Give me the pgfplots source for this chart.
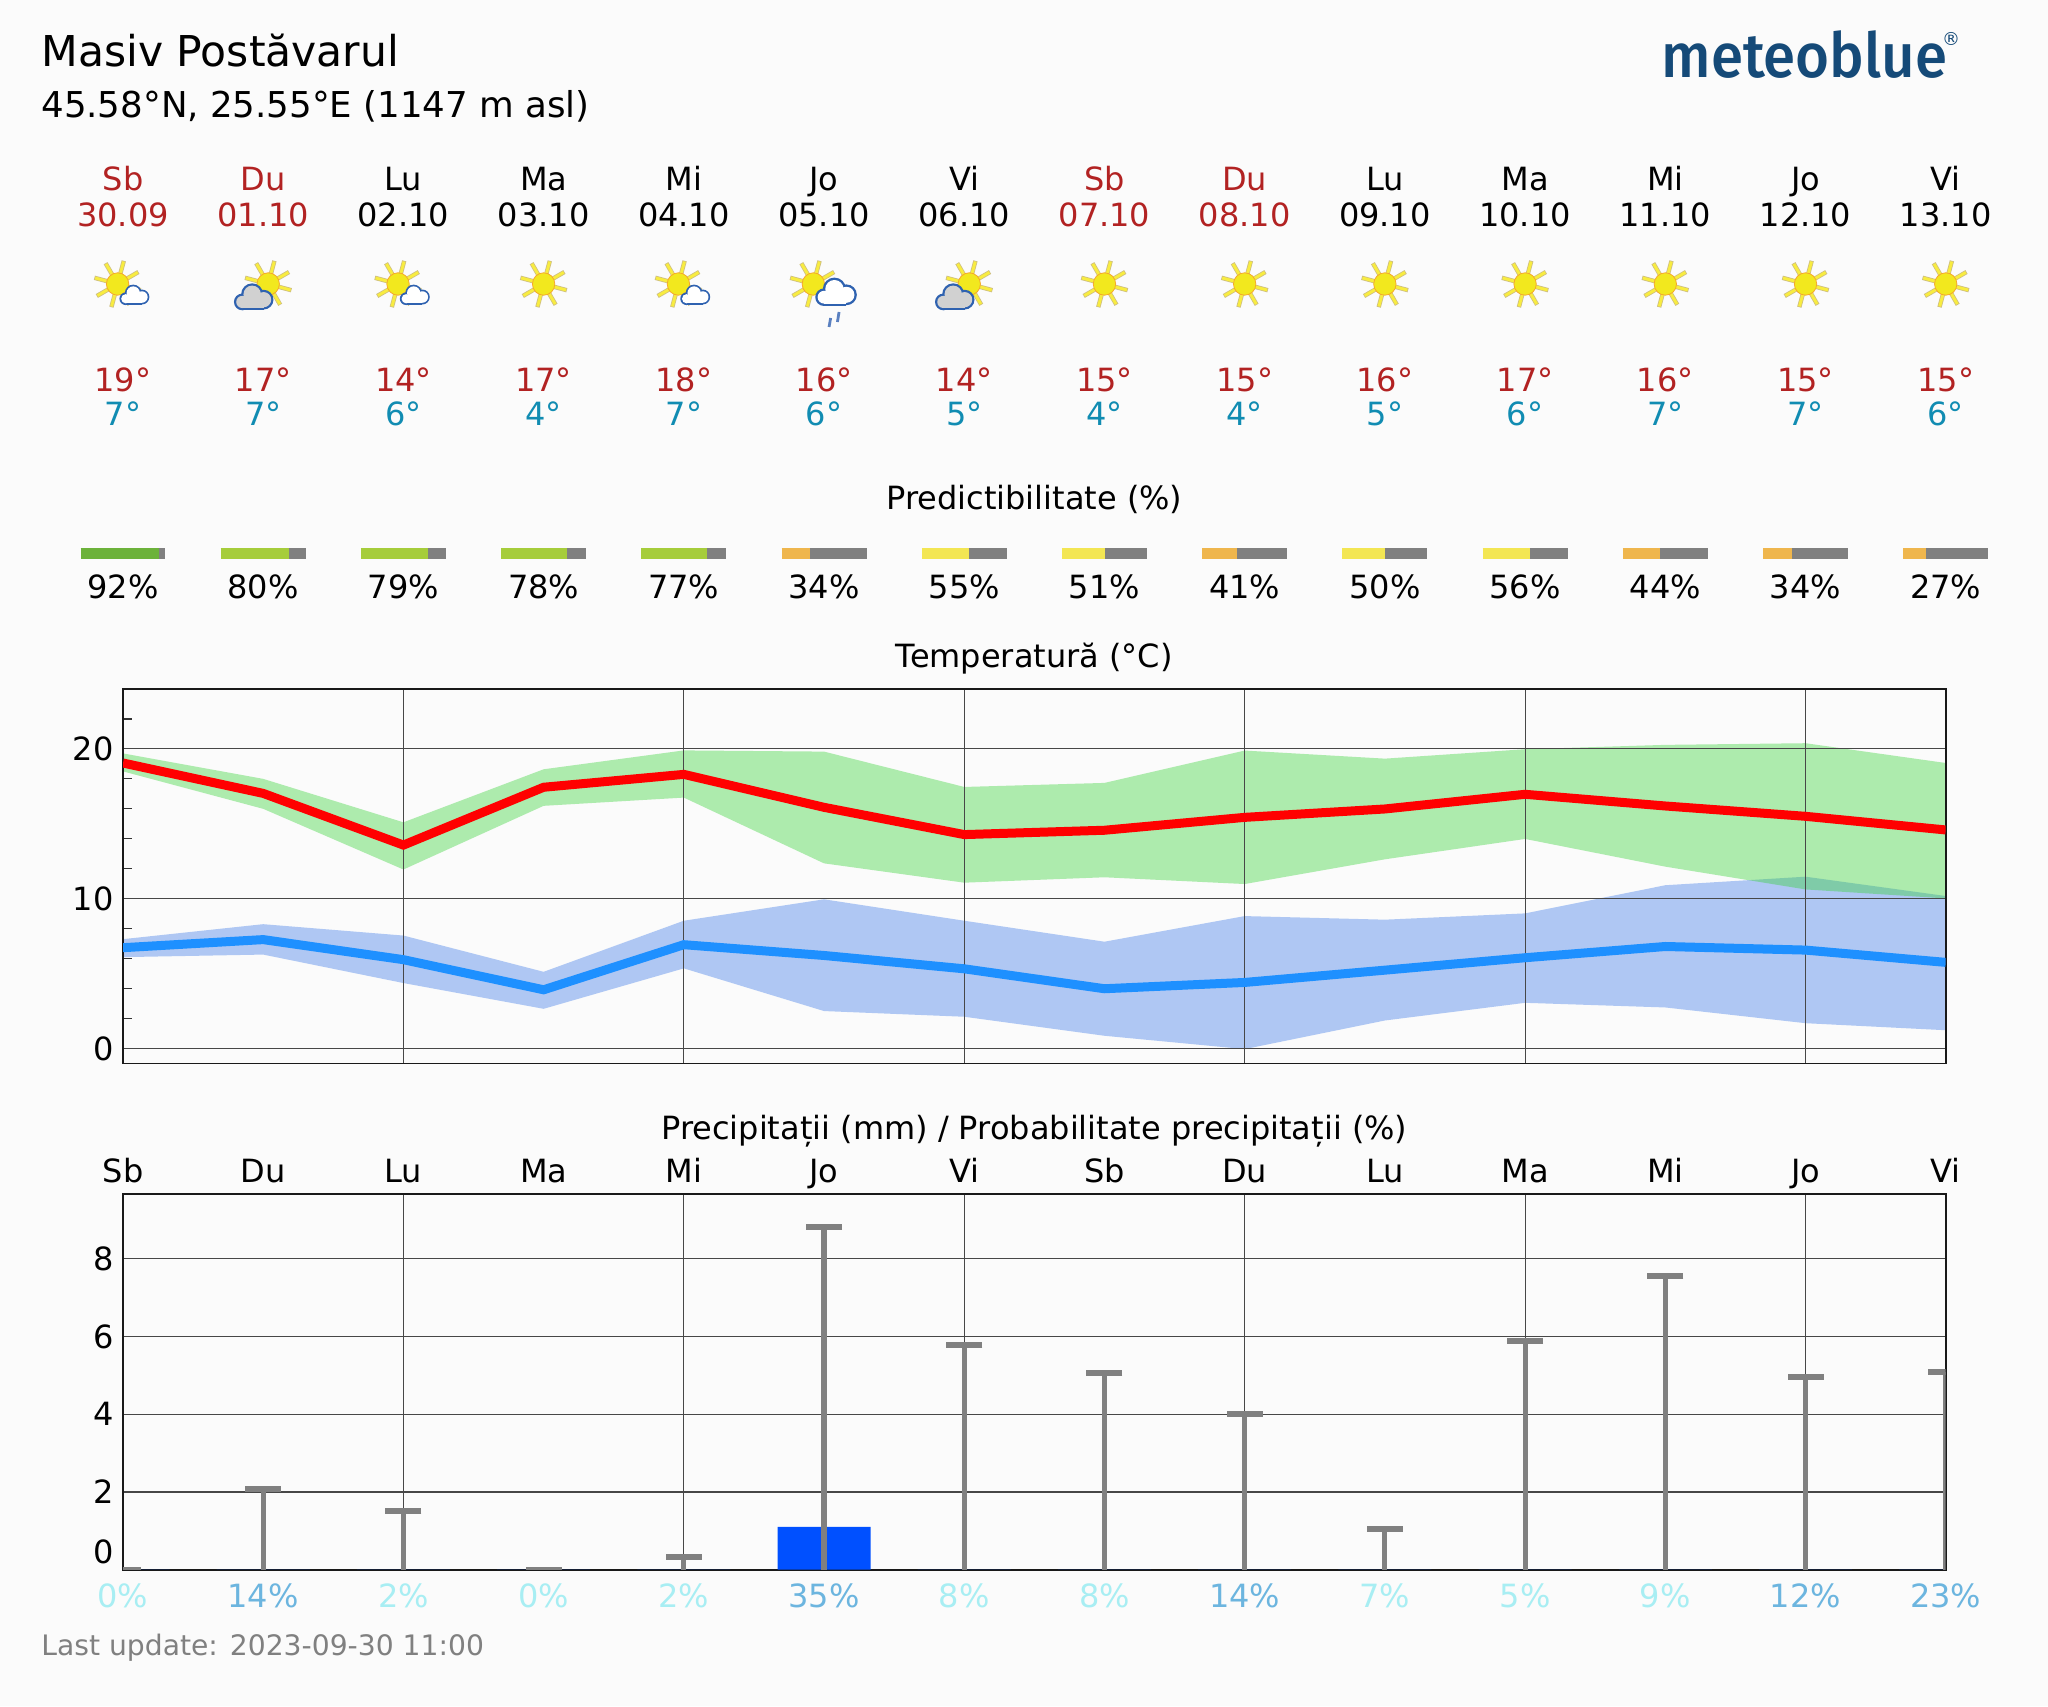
\documentclass[border=0pt]{standalone}
\usepackage{pgfplots}
\pgfplotsset{compat=1.18}
\usepackage{pgfplotstable}
\usepackage{fontspec}
\setmainfont{DejaVu Sans}
\newfontfamily\logofont{Fira Sans Medium}
\newcommand\fs{\fontsize{16}{19}\selectfont}
\definecolor{bg}{HTML}{FBFBFB}
\definecolor{wkred}{HTML}{B22222}
\definecolor{lotemp}{HTML}{118CB2}
\definecolor{logoblue}{HTML}{154A78}
\definecolor{predg}{HTML}{6CB23A}
\definecolor{predl}{HTML}{A6CD3B}
\definecolor{predy}{HTML}{F3E653}
\definecolor{predo}{HTML}{EFB64D}
\definecolor{predk}{HTML}{808080}
\definecolor{rainl}{HTML}{A8EEF3}
\definecolor{rainh}{HTML}{6CB5DF}
\definecolor{rainblue}{HTML}{0050FF}
\definecolor{cloudblue}{HTML}{2F62B0}
\definecolor{sunfill}{HTML}{F2E81E}
\definecolor{sunedge}{HTML}{F5A82A}
\definecolor{rayfill}{HTML}{F8EC40}
\definecolor{rayedge}{HTML}{CFC080}
\definecolor{dropblue}{HTML}{5A80C0}
\definecolor{cornflowerbluex}{HTML}{6495ED}
\definecolor{limegreenx}{HTML}{38D338}
\definecolor{dodgerbluex}{HTML}{1E90FF}
\pgfplotsset{
  layers/mine/.define layer set={axis background,axis grid,axis ticks,main,axis lines,axis tick labels,axis descriptions,axis foreground}{},
  chartax/.style={
    set layers=mine,
    scale only axis,anchor=south west,width=911.35pt,xmin=0,xmax=13,
    xtick={2,4,6,8,10,12},xticklabels={},
    major tick length=0pt,minor tick length=4.5pt,tick align=inside,tick pos=left,
    xmajorgrids,ymajorgrids,
    grid style={black!72,line width=0.55pt},
    minor tick style={black!80,line width=0.6pt},
    axis line style={black!90,line width=0.9pt},
    yticklabel style={font=\fs,inner sep=0pt,xshift=-4.5pt},
    clip marker paths=true,
    /pgf/number format/assume math mode=true,
  },
}
\newcommand\cloudbody[1]{%
  \fill[cloudblue] (-6pt,-2.6pt) circle (4.4pt);
  \fill[cloudblue] (-0.8pt,1.4pt) circle (5.8pt);
  \fill[cloudblue] (5.2pt,-1.4pt) circle (5.2pt);
  \fill[cloudblue] (-6pt,-7pt) rectangle (5.2pt,-2pt);
  \fill[#1] (-6pt,-2.6pt) circle (3.2pt);
  \fill[#1] (-0.8pt,1.4pt) circle (4.6pt);
  \fill[#1] (5.2pt,-1.4pt) circle (4pt);
  \fill[#1] (-6pt,-5.8pt) rectangle (5.2pt,-1pt);
}
\tikzset{
  sun/.pic={
    \foreach \a in {30,75,120,165,210,255,300,345}{
      \draw[rayedge,line width=2.2pt] (\a:5.5pt) -- (\a:12pt);
      \draw[rayfill,line width=1.4pt] (\a:5.5pt) -- (\a:11.6pt);
    }
    \fill[sunfill,draw=sunedge,line width=0.4pt] (0pt,0pt) circle (5.6pt);
  },
  whitecloud/.pic={\cloudbody{white}},
  greycloud/.pic={\cloudbody{black!18}},
  plainsun/.pic={\pic at (0pt,0pt) {sun};},
  sunsmall/.pic={\pic at (-2.7pt,0pt) {sun}; \pic[scale=0.72] at (5.7pt,-5.5pt) {whitecloud};},
  sunbig/.pic={\pic at (-5.35pt,0pt) {sun}; \pic at (6pt,-4pt) {whitecloud};
    \draw[dropblue,line width=1.4pt] (3.3pt,-17pt) -- (2.5pt,-21.5pt) ;
    \draw[dropblue,line width=1.4pt] (7.5pt,-14pt) -- (6.7pt,-19pt);},
  sungrey/.pic={\pic at (2.5pt,0pt) {sun}; \pic[scale=0.95] at (-4.75pt,-6.5pt) {greycloud};},
}
\newcommand\dayhead[4]{%
  \node[anchor=base,inner sep=0pt,font=\fs,text=#4] at (axis cs:#1,191) {#2};
  \node[anchor=base,inner sep=0pt,font=\fs,text=#4] at (axis cs:#1,227) {#3};
}
\newcommand\daytemp[3]{%
  \node[anchor=base,inner sep=0pt,font=\fs,text=wkred] at (axis cs:#1,391.7) {#2°};
  \node[anchor=base,inner sep=0pt,font=\fs,text=lotemp] at (axis cs:#1,425) {#3°};
}
\newcommand\daybot[5]{%
  \node[anchor=base,inner sep=0pt,font=\fs] at (axis cs:#1,598.3) {#2\%};
  \node[anchor=base,inner sep=0pt,font=\fs] at (axis cs:#1,1182.5) {#3};
  \node[anchor=base,inner sep=0pt,font=\fs,text=#5] at (axis cs:#1,1607.3) {#4\%};
}
\newcommand\icon[2]{\path (axis cs:#1,284) pic {#2};}
\newcommand\predbar[4]{%
  \addplot[no markers,line width=5.6pt,color=#4] coordinates {(#1,553.6)(#2,553.6)};
  \addplot[no markers,line width=5.6pt,color=predk] coordinates {(#2,553.6)(#3,553.6)};
}
\pgfplotstableread{
day tmax tmin
0 19.06 6.73
1 17.03 7.27
2 13.58 5.93
3 17.44 3.92
4 18.30 6.93
5 16.10 6.21
6 14.28 5.32
7 14.57 3.99
8 15.43 4.41
9 15.99 5.23
10 16.97 6.06
11 16.19 6.81
12 15.50 6.57
13 14.59 5.75
}\temps
\pgfplotstableread{
day sum rain
0 0 0
1 2.08 0
2 1.51 0
3 0 0
4 0.33 0
5 8.82 1.10
6 5.79 0
7 5.06 0
8 4.00 0
9 1.05 0
10 5.88 0
11 7.55 0
12 4.97 0
13 5.09 0
}\precip
\begin{document}
\begin{tikzpicture}
\fill[bg] (0,0) rectangle (1024pt,853pt);
\begin{axis}[at={(61.5pt,0pt)},anchor=south west,scale only axis,width=911.35pt,height=853pt,
  xmin=0,xmax=13,ymin=0,ymax=1706,y dir=reverse,hide axis,clip=false]
  \node[anchor=base west,inner sep=0pt,font=\fontsize{21.25}{25}\selectfont] at (axis cs:-0.585,67) {Masiv Postăvarul};
  \node[anchor=base west,inner sep=0pt,font=\fontsize{17.8}{21}\selectfont] at (axis cs:-0.585,117.5) {45.58°N, 25.55°E (1147 m asl)};
  \node[anchor=base west,inner sep=0pt,text=logoblue] at (axis cs:10.97,78) {\scalebox{0.94}[1]{\fontsize{31}{36}\logofont meteoblue}};
  \node[anchor=base west,inner sep=0pt,text=logoblue,font=\fontsize{9}{10}\selectfont] at (axis cs:12.972,46) {®};
  \node[anchor=base,inner sep=0pt,font=\fs] at (axis cs:6.5,509) {Predictibilitate (\%)};
  \node[anchor=base,inner sep=0pt,font=\fs] at (axis cs:6.5,667) {Temperatură (°C)};
  \node[anchor=base,inner sep=0pt,font=\fs] at (axis cs:6.5,1139) {Precipitații (mm) / Probabilitate precipitații (\%)};
  \node[anchor=base west,inner sep=0pt,font=\fontsize{14.1}{17}\selectfont,text=predk] at (axis cs:-0.585,1655) {Last update: 2023-09-30 11:00};
  \node[anchor=east,inner sep=0pt,font=\fs,xshift=-4.5pt] at (axis cs:0,1552) {0};
  \dayhead{0}{Sb}{30.09}{wkred}\dayhead{1}{Du}{01.10}{wkred}\dayhead{2}{Lu}{02.10}{black}\dayhead{3}{Ma}{03.10}{black}
  \dayhead{4}{Mi}{04.10}{black}\dayhead{5}{Jo}{05.10}{black}\dayhead{6}{Vi}{06.10}{black}\dayhead{7}{Sb}{07.10}{wkred}
  \dayhead{8}{Du}{08.10}{wkred}\dayhead{9}{Lu}{09.10}{black}\dayhead{10}{Ma}{10.10}{black}\dayhead{11}{Mi}{11.10}{black}
  \dayhead{12}{Jo}{12.10}{black}\dayhead{13}{Vi}{13.10}{black}
  \daytemp{0}{19}{7}\daytemp{1}{17}{7}\daytemp{2}{14}{6}\daytemp{3}{17}{4}\daytemp{4}{18}{7}\daytemp{5}{16}{6}\daytemp{6}{14}{5}
  \daytemp{7}{15}{4}\daytemp{8}{15}{4}\daytemp{9}{16}{5}\daytemp{10}{17}{6}\daytemp{11}{16}{7}\daytemp{12}{15}{7}\daytemp{13}{15}{6}
  \daybot{0}{92}{Sb}{0}{rainl}\daybot{1}{80}{Du}{14}{rainh}\daybot{2}{79}{Lu}{2}{rainl}\daybot{3}{78}{Ma}{0}{rainl}
  \daybot{4}{77}{Mi}{2}{rainl}\daybot{5}{34}{Jo}{35}{rainh}\daybot{6}{55}{Vi}{8}{rainl}\daybot{7}{51}{Sb}{8}{rainl}
  \daybot{8}{41}{Du}{14}{rainh}\daybot{9}{50}{Lu}{7}{rainl}\daybot{10}{56}{Ma}{5}{rainl}\daybot{11}{44}{Mi}{9}{rainl}
  \daybot{12}{34}{Jo}{12}{rainh}\daybot{13}{27}{Vi}{23}{rainh}
  \icon{0}{sunsmall}\icon{1}{sungrey}\icon{2}{sunsmall}\icon{3}{plainsun}\icon{4}{sunsmall}\icon{5}{sunbig}\icon{6}{sungrey}
  \icon{7}{plainsun}\icon{8}{plainsun}\icon{9}{plainsun}\icon{10}{plainsun}\icon{11}{plainsun}\icon{12}{plainsun}\icon{13}{plainsun}
  \predbar{-0.303}{0.2545}{0.303}{predg}
  \predbar{0.697}{1.1818}{1.303}{predl}
  \predbar{1.697}{2.1757}{2.303}{predl}
  \predbar{2.697}{3.1697}{3.303}{predl}
  \predbar{3.697}{4.1636}{4.303}{predl}
  \predbar{4.697}{4.903}{5.303}{predo}
  \predbar{5.697}{6.0303}{6.303}{predy}
  \predbar{6.697}{7.0061}{7.303}{predy}
  \predbar{7.697}{7.9455}{8.303}{predo}
  \predbar{8.697}{9.0}{9.303}{predy}
  \predbar{9.697}{10.0364}{10.303}{predy}
  \predbar{10.697}{10.9636}{11.303}{predo}
  \predbar{11.697}{11.903}{12.303}{predo}
  \predbar{12.697}{12.8606}{13.303}{predo}
\end{axis}
\begin{axis}[at={(61.5pt,321.25pt)},anchor=south west,scale only axis,width=911.35pt,height=187.25pt,
  xmin=0,xmax=13,ymin=-1,ymax=24,hide axis]
  \addplot[draw=none,fill=cornflowerbluex,fill opacity=0.5] coordinates {
    (0,7.30)(1,8.30)(2,7.54)(3,5.12)(4,8.53)(5,9.96)(6,8.53)(7,7.13)(8,8.84)(9,8.60)(10,9.02)(11,10.90)(12,11.47)(13,10.18)
    (13,1.22)(12,1.69)(11,2.74)(10,3.05)(9,1.87)(8,-0.04)(7,0.85)(6,2.12)(5,2.50)(4,5.35)(3,2.65)(2,4.37)(1,6.27)(0,6.10)} -- cycle;
  \addplot[draw=none,fill=limegreenx,fill opacity=0.4] coordinates {
    (0,19.70)(1,18.00)(2,15.10)(3,18.64)(4,19.90)(5,19.82)(6,17.46)(7,17.73)(8,19.89)(9,19.35)(10,19.98)(11,20.27)(12,20.38)(13,19.06)
    (13,10.02)(12,10.62)(11,12.14)(10,13.99)(9,12.63)(8,10.98)(7,11.43)(6,11.07)(5,12.36)(4,16.75)(3,16.20)(2,11.95)(1,16.00)(0,18.50)} -- cycle;
\end{axis}
\begin{axis}[chartax,at={(61.5pt,321.25pt)},height=187.25pt,ymin=-1,ymax=24,
  ytick={0,10,20},minor ytick={2,4,6,8,12,14,16,18,22,24}]
  \addplot[no markers,color=dodgerbluex,line width=4.5pt,line join=miter] table[x=day,y=tmin] {\temps};
  \addplot[no markers,color=red,line width=4.5pt,line join=miter] table[x=day,y=tmax] {\temps};
\end{axis}
\begin{axis}[chartax,at={(61.5pt,68.15pt)},height=187.7pt,ymin=0,ymax=9.66,
  ytick={2,4,6,8}]
  \addplot[ybar,bar width=0.664,fill=rainblue,draw=none] table[x=day,y=rain] {\precip};
  \addplot[ycomb,color=predk,line width=2.6pt,mark=-,mark size=9pt,mark options={line width=3pt,color=predk,solid}] table[x=day,y=sum] {\precip};
\end{axis}
\end{tikzpicture}
\end{document}
